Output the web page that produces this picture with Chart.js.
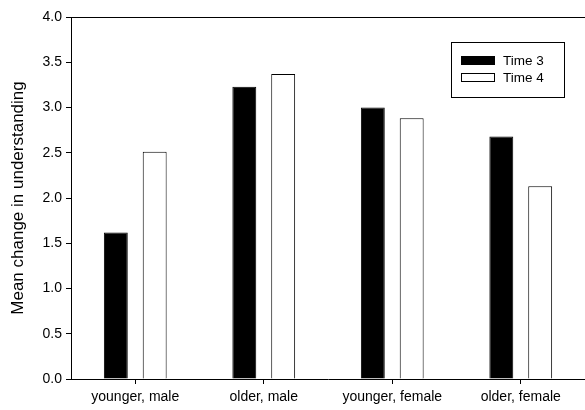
<!DOCTYPE html>
<html>
<head>
<meta charset="utf-8">
<script src="https://cdn.jsdelivr.net/npm/chart.js@4"></script>
<style>
  html, body { margin: 0; padding: 0; background: #fff; }
  #wrap { width: 585px; height: 410px; }
</style>
</head>
<body>
<div id="wrap"><canvas id="chart" width="585" height="410"></canvas></div>
<script>
const categories = ["younger, male", "older, male", "younger, female", "older, female"];
const time3 = [1.62, 3.23, 3.00, 2.68];
const time4 = [2.51, 3.37, 2.88, 2.13];
const yTicks = [0, 0.5, 1, 1.5, 2, 2.5, 3, 3.5, 4];

const FONT = "'Liberation Sans', Arial, sans-serif";

// top frame line + boxed legend
const framePlugin = {
    id: "frame",
    afterDraw(chart) {
        const { ctx, chartArea } = chart;
        ctx.save();
        ctx.strokeStyle = "#000";
        ctx.lineWidth = 1;
        ctx.beginPath();
        ctx.moveTo(chartArea.left, chartArea.top + 0.5);
        ctx.lineTo(chartArea.right, chartArea.top + 0.5);
        ctx.stroke();

        const bx = 451, by = 42, bw = 113, bh = 55;
        ctx.strokeRect(bx + 0.5, by + 0.5, bw, bh);
        ctx.font = "13.5px " + FONT;
        ctx.textBaseline = "middle";
        chart.data.datasets.forEach((ds, i) => {
            const y = by + 19 + i * 17;
            ctx.fillStyle = ds.backgroundColor;
            ctx.fillRect(bx + 10.5, y - 4.5, 33, 8);
            ctx.strokeStyle = "#000";
            ctx.strokeRect(bx + 10.5, y - 4.5, 33, 8);
            ctx.fillStyle = "#000";
            ctx.fillText(ds.label, bx + 52, y);
        });
        ctx.restore();
    }
};

new Chart(document.getElementById("chart"), {
    type: "bar",
    data: {
        labels: categories,
        datasets: [
            { label: "Time 3", data: time3, backgroundColor: "#000", borderColor: "#000", borderWidth: 1 },
            { label: "Time 4", data: time4, backgroundColor: "#fff", borderColor: "#000", borderWidth: 1 }
        ]
    },
    options: {
        responsive: false,
        animation: false,
        devicePixelRatio: 1,
        layout: { padding: { top: 17, right: 0, left: 0, bottom: 0 } },
        datasets: { bar: { categoryPercentage: 0.605, barPercentage: 0.615 } },
        plugins: { legend: { display: false }, tooltip: { enabled: false } },
        scales: {
            x: {
                grid: { offset: false, drawOnChartArea: false, drawTicks: true, tickLength: 5, color: "#000" },
                border: { display: true, color: "#000" },
                ticks: { color: "#000", font: { family: FONT, size: 14 }, padding: 5 },
                afterFit(scale) { scale.height = 31; }
            },
            y: {
                min: 0,
                max: 4,
                afterBuildTicks(scale) { scale.ticks = yTicks.map(v => ({ value: v })); },
                grid: { drawOnChartArea: false, drawTicks: true, tickLength: 5, color: "#000" },
                border: { display: true, color: "#000" },
                ticks: {
                    color: "#000",
                    font: { family: FONT, size: 14 },
                    padding: 4,
                    callback: v => v.toFixed(1)
                },
                title: {
                    display: true,
                    text: "Mean change in understanding",
                    color: "#000",
                    font: { family: FONT, size: 17 },
                    padding: { top: 8, bottom: 4 }
                },
                afterFit(scale) { scale.width = 71; }
            }
        }
    },
    plugins: [framePlugin]
});
</script>
</body>
</html>
